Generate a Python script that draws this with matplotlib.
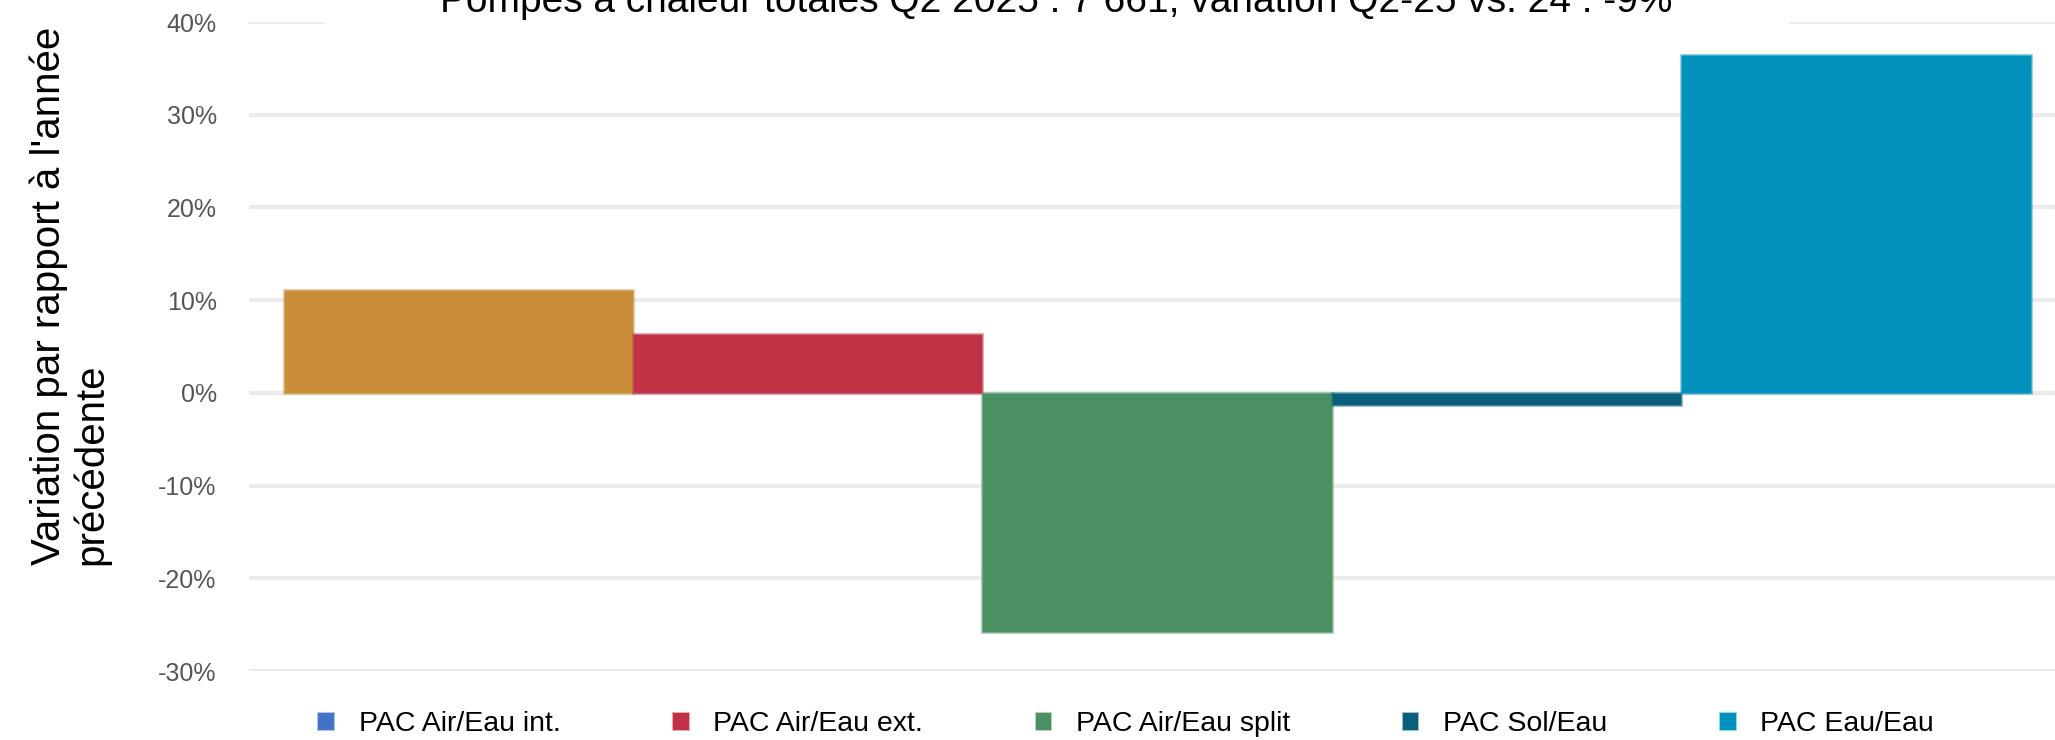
import matplotlib
matplotlib.use('Agg')
import matplotlib.pyplot as plt
from matplotlib import patches as pc
from matplotlib.ticker import FuncFormatter

# données
categories = ['PAC Air/Eau int.', 'PAC Air/Eau ext.', 'PAC Air/Eau split', 'PAC Sol/Eau', 'PAC Eau/Eau']
variation = [0.111, 0.064, -0.258, -0.013, 0.365]
bar_colors = ['#C98E37', '#C13247', '#4A9062', '#0A5F7C', '#0091BC']
legend_colors = ['#4472C4', '#C13247', '#4A9062', '#0A5F7C', '#0091BC']
y_ticks = [-0.3, -0.2, -0.1, 0.0, 0.1, 0.2, 0.3, 0.4]
title = "Pompes à chaleur totales Q2 2025 : 7 661, variation Q2-25 vs. 24 : -9%"
y_label = "Variation par rapport à l'année\nprécédente"

NARROW = ['Liberation Sans Narrow', 'Liberation Sans', 'DejaVu Sans']
plt.rcParams['font.family'] = ['Liberation Sans', 'DejaVu Sans']

fig = plt.figure(figsize=(20.55, 7.4), dpi=100)
ax = fig.add_axes([0.121, 0.0932, 0.879, 0.877])

x = list(range(len(categories)))
for i in x:
    ax.bar(i, variation[i], width=1.0, color=bar_colors[i],
           edgecolor=matplotlib.colors.to_rgba(bar_colors[i], 0.45),
           linewidth=2, zorder=2)

ax.set_xlim(-0.6, 4.57)
ax.set_ylim(-0.3, 0.4)
ax.set_yticks(y_ticks)
ax.yaxis.set_major_formatter(FuncFormatter(lambda v, p: '%d%%' % round(v * 100)))
ax.set_xticks([])
ax.tick_params(axis='y', length=0, pad=23, labelsize=18, labelcolor='#555555')
ax.grid(axis='y', color='#EBEBEB', linewidth=3, zorder=0)
for s in ax.spines.values():
    s.set_visible(False)

# axe y (titre sur deux lignes, aligné à gauche)
fig.text(0.034, 0.60, y_label, rotation=90, ha='center', va='center',
         multialignment='left', fontsize=29, family=NARROW, linespacing=1.1)

# cadre blanc du titre (masque la grille du haut)
fig.patches.append(pc.Rectangle((0.158, 0.95), 0.7126, 0.06, transform=fig.transFigure,
                                facecolor='white', edgecolor='none', zorder=1))
fig.text(0.514, 0.984, title, ha='center', va='baseline', fontsize=28, family=NARROW,
         zorder=3)

# légende
handles = [pc.Patch(facecolor=c, edgecolor=matplotlib.colors.to_rgba(c, 0.4), linewidth=1.5)
           for c in legend_colors]
fig.legend(handles, categories, loc='center', bbox_to_anchor=(0.548, 0.021), ncol=5,
           frameon=False, fontsize=20.5, handlelength=0.55, handleheight=0.55,
           handletextpad=0.87, columnspacing=3.95)

fig.savefig('out.png', dpi=100)
